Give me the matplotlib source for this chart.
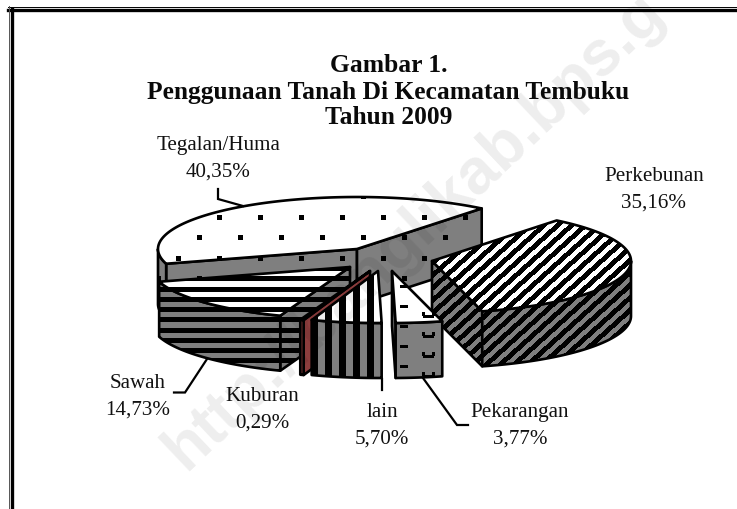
import numpy as np
import matplotlib
matplotlib.use("Agg")
import matplotlib.pyplot as plt
from matplotlib.patches import Polygon

# ---- data ----
categories = ["Perkebunan", "Pekarangan", "lain", "Kuburan", "Sawah", "Tegalan/Huma"]
values = [35.16, 3.77, 5.70, 0.29, 14.73, 40.35]
title_lines = ["Gambar 1.", "Penggunaan Tanah Di Kecamatan Tembuku", "Tahun 2009"]

W, H = 737, 510
fig = plt.figure(figsize=(W / 100, H / 100), dpi=100, facecolor="white")
ax = fig.add_axes([0, 0, 1, 1])
ax.set_xlim(0, W)
ax.set_ylim(H, 0)
ax.axis("off")

SERIF = "Liberation Serif"
GREY = (0.5, 0.5, 0.5)
WHITE = (1, 1, 1)
RX, RY, DEPTH = 199, 52, 55
START = 51.2

X, Y = np.meshgrid(np.arange(W) + 0.5, np.arange(H) + 0.5)

def m_dots():
    a = ((X - 217.5) % 41 < 5) & ((Y - 216) % 41 < 5)
    b = ((X - 197.5) % 41 < 5) & ((Y - 236.5) % 41 < 5)
    return a | b

def m_diag():
    return (X * 0.9 + Y) % 12.5 < 6.6

def m_divot():
    u = (X - 400) % 46
    v = (Y - 306) % 20
    a = (u < 8) & (v < 3.5)
    b = (u > 23) & (u < 34) & (v > 10) & (v < 13.5)
    c = ((u > 22) & (u < 25) | (u > 32) & (u < 35)) & (v > 7) & (v < 11)
    return a | b | c

def m_hstripe():
    return ((Y - 277.5) % 10.25) < 5

def m_vstripe():
    return ((X - 311.5) % 13.8) < 7

def texture(mask, bg):
    img = np.empty((H, W, 3))
    img[:] = bg
    img[mask] = 0
    return img

style = {
    "Tegalan/Huma": m_dots(),
    "Perkebunan": m_diag(),
    "Pekarangan": m_divot(),
    "Sawah": m_hstripe(),
    "lain": m_vstripe(),
    "Kuburan": np.zeros_like(X, dtype=bool),
}
apex = {
    "Tegalan/Huma": (357, 250),
    "Perkebunan": (432, 262),
    "Pekarangan": (392, 272),
    "lain": (378, 272),
    "Kuburan": (370, 272),
    "Sawah": (350, 268),
}
BROWN = (0.55, 0.24, 0.24)
LW = 1.9

def face(pts, mask, bg, z):
    poly = Polygon(pts, closed=True, facecolor="none", edgecolor="black",
                   linewidth=LW, joinstyle="round", zorder=z + 0.5)
    ax.add_patch(poly)
    im = ax.imshow(texture(mask, bg), extent=(0, W, H, 0), interpolation="nearest",
                   zorder=z, aspect="auto")
    clip = Polygon(pts, closed=True, transform=ax.transData)
    im.set_clip_path(clip)

def arc(c, t1, t2, n=80):
    t = np.radians(np.linspace(t1, t2, n))
    return np.column_stack([c[0] + RX * np.cos(t), c[1] - RY * np.sin(t)])

# angles come from the values, clockwise from START
spans = np.array(values) * 3.6
ends = START - np.cumsum(spans)
starts = ends + spans
angles = {c: (s, e) for c, s, e in zip(categories, starts, ends)}

order = ["Tegalan/Huma", "Perkebunan", "Pekarangan", "Sawah", "Kuburan", "lain"]
z = 2
down = np.array([0, DEPTH])
for name in order:
    t1, t2 = angles[name]
    c = np.array(apex[name], dtype=float)
    mask = style[name]
    wall_bg = BROWN if name == "Kuburan" else GREY
    top_bg = BROWN if name == "Kuburan" else WHITE

    # cut faces
    for t, vis in ((t1, np.cos(np.radians(t1)) < 0), (t2, np.cos(np.radians(t2)) > 0)):
        if vis:
            p = arc(c, t, t, 1)[0]
            face(np.array([c, p, p + down, c + down]), mask, wall_bg, z)
            z += 1
    # outer wall: the part of the rim facing the viewer
    w1, w2 = min(t1, 0), max(t2, -180)
    if w1 > w2:
        rim = arc(c, w1, w2)
        face(np.vstack([rim, (rim + down)[::-1]]), mask, wall_bg, z)
        z += 1
    # top
    face(np.vstack([[c], arc(c, t1, t2, 200)]), mask, top_bg, z)
    z += 1

# leader lines
leaders = [
    ([218, 218, 243], [190, 200, 207]),
    ([207, 185, 174], [360, 393.5, 393.5]),
    ([382, 382], [380, 391]),
    ([423, 457, 468], [379, 426, 426]),
]
for lx, ly in leaders:
    ax.plot(lx, ly, color="black", lw=1.6, zorder=z, solid_joinstyle="miter")

# frame
ax.plot([8, W], [7.5, 7.5], color="black", lw=0.7, zorder=z)
ax.plot([8, W], [11, 11], color="black", lw=2.4, zorder=z)
ax.plot([9, 9], [7, H], color="#555555", lw=0.7, zorder=z)
ax.plot([12.5, 12.5], [10, H], color="black", lw=2.4, zorder=z)

# text
for s, y in zip(title_lines, [65, 92, 117]):
    ax.text(388.5, y, s, family=SERIF, weight="bold", fontsize=18.4, ha="center",
            va="center", color="#0a0a0a", zorder=z)

label_pos = {
    "Tegalan/Huma": (218.5, 145.5),
    "Perkebunan": (654, 176.5),
    "Sawah": (137.5, 383.5),
    "Kuburan": (262, 396.5),
    "lain": (382, 412.5),
    "Pekarangan": (520, 412.5),
}
for name, v in zip(categories, values):
    lx, ly = label_pos[name]
    ax.text(lx, ly, name, family=SERIF, fontsize=15.1, ha="center", va="center",
            color="#111111", zorder=z)
    ax.text(lx, ly + 26.5, f"{v:.2f}%".replace(".", ","), family=SERIF, fontsize=15.1,
            ha="center", va="center", color="#111111", zorder=z)

# watermark
ax.text(186, 472, "http://banglikab.bps.g", family="Liberation Sans", weight="bold",
        fontsize=46, rotation=43.5, rotation_mode="anchor", ha="left", va="baseline",
        color="black", alpha=0.07, zorder=z + 1, clip_on=True)

fig.savefig("out.png", dpi=100, facecolor="white")
